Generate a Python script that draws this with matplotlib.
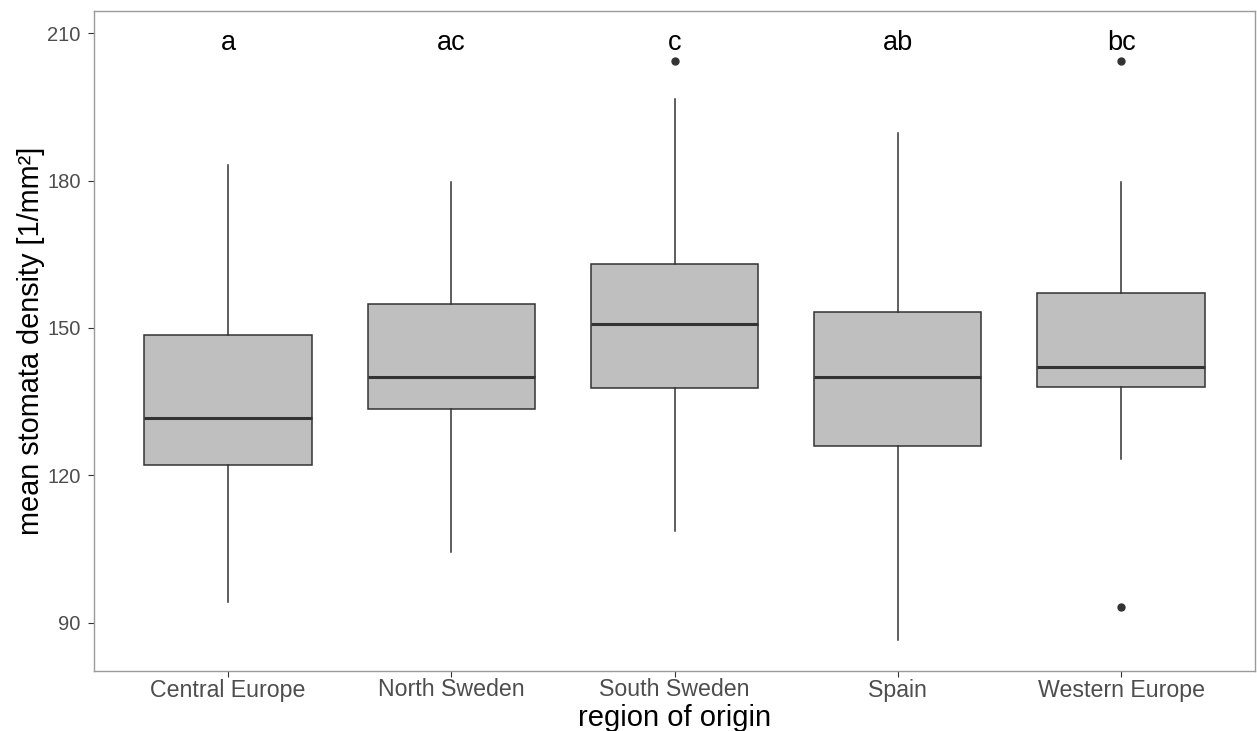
import matplotlib
matplotlib.use("Agg")
import matplotlib.pyplot as plt

regions = ["Central Europe", "North Sweden", "South Sweden", "Spain", "Western Europe"]
whisker_low = [94.3, 104.4, 108.7, 86.5, 123.4]
q1 = [122.1, 133.5, 137.7, 126.0, 137.9]
median = [131.7, 140.0, 150.8, 140.0, 142.1]
q3 = [148.6, 154.9, 163.1, 153.2, 157.2]
whisker_high = [183.2, 179.7, 196.5, 189.7, 179.8]
outliers = [[], [], [204.4], [], [204.4, 93.3]]
letters = ["a", "ac", "c", "ab", "bc"]
letter_y = 206.5
yticks = [90, 120, 150, 180, 210]

font = "Liberation Sans"

fig = plt.figure(figsize=(12.57, 7.31), dpi=100)
ax = fig.add_axes([94 / 1257, 1 - 671 / 731, (1255 - 94) / 1257, (671 - 11) / 731])

stats = []
for i in range(len(regions)):
    stats.append(dict(med=median[i], q1=q1[i], q3=q3[i], whislo=whisker_low[i],
                      whishi=whisker_high[i], fliers=outliers[i], label=regions[i]))

pos = list(range(1, len(regions) + 1))
ax.bxp(stats, positions=pos, widths=0.75, patch_artist=True, showcaps=False,
       boxprops=dict(facecolor="#BFBFBF", edgecolor="#333333", linewidth=1.1),
       medianprops=dict(color="#333333", linewidth=2.2),
       whiskerprops=dict(color="#333333", linewidth=1.1),
       flierprops=dict(marker="o", markerfacecolor="#333333", markeredgecolor="#333333",
                       markersize=5))

for p, t in zip(pos, letters):
    ax.text(p, letter_y, t, ha="center", va="baseline", fontsize=19.5,
            family=font, color="black")

ax.set_xlim(0.4, len(regions) + 0.6)
ax.set_ylim(80.2, 214.5)
ax.set_yticks(yticks)
ax.set_xticks(pos)
ax.set_xticklabels(regions, family=font, fontsize=16.7, color="#4D4D4D")
for lab in ax.get_yticklabels():
    lab.set_family(font)
    lab.set_fontsize(14.5)
    lab.set_color("#4D4D4D")
ax.tick_params(axis="both", length=4.2, width=0.8, color="#333333")
ax.tick_params(axis="y", pad=5.5)
ax.tick_params(axis="x", pad=1.2)
for s in ax.spines.values():
    s.set_color("#9A9A9A")
    s.set_linewidth(1.0)

ax.set_xlabel("region of origin", family=font, fontsize=21, color="black", labelpad=2)
ax.set_ylabel("mean stomata density [1/mm²]", family=font, fontsize=20.8, color="black", labelpad=1.5)

fig.savefig("out.png", dpi=100)
